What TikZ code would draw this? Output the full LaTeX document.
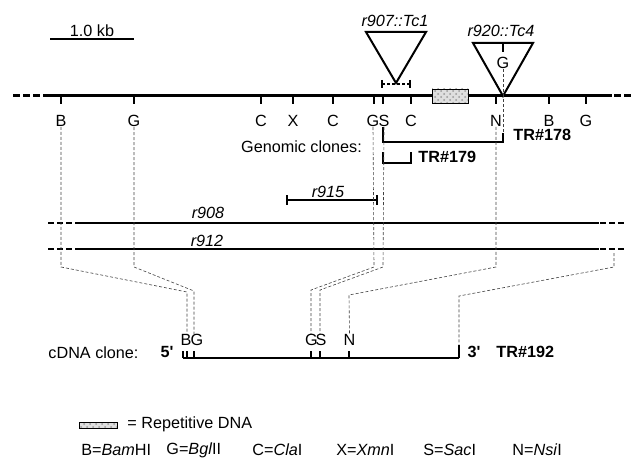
\documentclass[tikz,border=0pt]{standalone}
\usepackage{fontspec}
\setmainfont{Liberation Sans}
\usetikzlibrary{patterns}

\tikzset{
  lbl/.style={inner sep=0pt},
  clone/.style={inner sep=0pt, font=\fontsize{8.1}{9.7}\selectfont\bfseries},
  ital/.style={inner sep=0pt, font=\fontsize{8.1}{9.7}\selectfont\itshape},
  maplink/.style={line width=0.3pt, black!75, dash pattern=on 1.5pt off 1pt},
  chrom/.style={line width=1.5pt},
  chromend/.style={line width=1.5pt, dash pattern=on 3.5pt off 1.5pt},
  mutant/.style={line width=0.9pt},
  mutantend/.style={line width=0.9pt, dash pattern=on 3pt off 1.5pt},
  rep/.style={draw, line width=0.4pt, preaction={fill=gray!25}, pattern=crosshatch dots, pattern color=gray!80}
}

\begin{document}
\begin{tikzpicture}[x=0.5pt, y=-0.5pt, font=\fontsize{8.1}{9.7}\selectfont]
\useasboundingbox (0,0) rectangle (636,460);

% scale bar
\draw[line width=0.7pt] (50,39) -- (134,39);
\node[lbl] (scale) at (92,31) {1.0 kb};

% genomic map
\draw[chromend] (13,96) -- (43,96);
\draw[chrom] (43,96) -- (612,96);
\draw[chromend] (614,96) -- (634,96);
\draw[rep] (432,89) rectangle (468,103);
\draw[line width=1pt] (61,96) -- (61,104);
\draw[line width=1pt] (134,96) -- (134,104);
\draw[line width=1pt] (261,96) -- (261,104);
\draw[line width=1pt] (293,96) -- (293,104);
\draw[line width=1pt] (333,96) -- (333,104);
\draw[line width=1pt] (374,96) -- (374,104);
\draw[line width=1pt] (383,96) -- (383,104);
\draw[line width=1pt] (411,96) -- (411,104);
\draw[line width=1pt] (496,96) -- (496,104);
\draw[line width=1pt] (549,96) -- (549,104);
\draw[line width=1pt] (586,96) -- (586,104);
\node[lbl] (gB1) at (61,121) {B};
\node[lbl] (gG1) at (134,121) {G};
\node[lbl] (gC1) at (261,121) {C};
\node[lbl] (gX) at (293,121) {X};
\node[lbl] (gC2) at (333,121) {C};
\node[lbl] (gG2) at (373,121) {G};
\node[lbl] (gS) at (384,121) {S};
\node[lbl] (gC3) at (411,121) {C};
\node[lbl] (gN) at (496,121) {N};
\node[lbl] (gB2) at (549,121) {B};
\node[lbl] (gG3) at (586,121) {G};

% insertions
\draw[line width=1pt] (366,32) -- (426,32) -- (396,83) -- cycle;
\node[ital] (tc1) at (395,21) {r907::Tc1};
\draw[line width=0.6pt, dash pattern=on 1.5pt off 1pt] (382,84) -- (410,84);
\draw[line width=0.6pt] (382,80) -- (382,88);
\draw[line width=0.6pt] (410,80) -- (410,88);
\draw[line width=1pt] (473,43) -- (533,43) -- (503,96) -- cycle;
\draw[line width=0.6pt] (503,43) -- (503,52);
\node[lbl] (tcG) at (503,63) {G};
\node[ital] (tc4) at (501,31) {r920::Tc4};

% genomic clones
\node[lbl] (gclones) at (301.5,147) {Genomic clones:};
\draw[line width=0.6pt] (383,127) -- (383,142) -- (503,142) -- (503,133);
\node[clone, anchor=west] (tr178) at (513,135) {TR\#178};
\draw[line width=0.6pt] (383,152) -- (383,163) -- (411,163) -- (411,152);
\node[clone, anchor=west] (tr179) at (418,157) {TR\#179};

% deletions
\draw[line width=1pt] (287,200) -- (377,200);
\draw[line width=1pt] (287,195) -- (287,205);
\draw[line width=1pt] (377,195) -- (377,205);
\node[ital] (r915) at (328,192) {r915};
\draw[mutantend] (48,223) -- (75,223);
\draw[mutant] (75,223) -- (599,223);
\draw[mutantend] (600,223) -- (624,223);
\node[ital] (r908) at (208,213) {r908};
\draw[mutantend] (48,249) -- (75,249);
\draw[mutant] (75,249) -- (599,249);
\draw[mutantend] (600,249) -- (624,249);
\node[ital] (r912) at (207,241) {r912};

% cDNA clone
\node[lbl] (cdna) at (93.5,353) {cDNA clone:};
\node[clone] (five) at (167,352) {5\textquotesingle};
\draw[line width=0.8pt] (183,358) -- (459,358);
\draw[line width=0.6pt] (183,351) -- (183,358);
\draw[line width=0.6pt] (187,351) -- (187,358);
\draw[line width=0.6pt] (194,351) -- (194,358);
\draw[line width=0.6pt] (311,351) -- (311,358);
\draw[line width=0.6pt] (320,351) -- (320,358);
\draw[line width=0.6pt] (349,351) -- (349,358);
\draw[line width=0.6pt] (459,345) -- (459,358);
\node[lbl] (cB) at (186,340) {B};
\node[lbl] (cG1) at (197,340) {G};
\node[lbl] (cG2) at (311.5,340) {G};
\node[lbl] (cS) at (321,340) {S};
\node[lbl] (cN) at (349.5,340) {N};
\node[clone] (three) at (474,352) {3\textquotesingle};
\node[clone, anchor=west] (tr192) at (496,352) {TR\#192};
\coordinate (mutend) at (614,253);
\coordinate (cend) at (459,345);

% mapping lines
\draw[maplink] (gB1.south) -- (61,267) -- (187,292) -- (187,292 |- cB.north);
\draw[maplink] (gG1.south) -- (134,267) -- (194,291) -- (194,291 |- cG1.north);
\draw[maplink] (gG2.south) -- (374,267) -- (311,290) -- (311,290 |- cG2.north);
\draw[maplink] (gS.south) -- (383,267) -- (320,290) -- (320,290 |- cS.north);
\draw[maplink] (gN.south) -- (496,267) -- (349,295) -- (cN.north);
\draw[maplink] (mutend) -- (614,267) -- (459,296) -- (cend);
\draw[maplink] (tcG.south) -- (503,133);

% legend
\draw[rep] (79,422) rectangle (117,428);
\node[lbl, anchor=west] (replbl) at (127,424) {= Repetitive DNA};
\node[lbl, anchor=west] (keyB) at (81,450) {B=\textit{Bam}HI};
\node[lbl, anchor=west] (keyG) at (166,450) {G=\textit{Bgl}II};
\node[lbl, anchor=west] (keyC) at (252,450) {C=\textit{Cla}I};
\node[lbl, anchor=west] (keyX) at (336,450) {X=\textit{Xmn}I};
\node[lbl, anchor=west] (keyS) at (423,450) {S=\textit{Sac}I};
\node[lbl, anchor=west] (keyN) at (512,450) {N=\textit{Nsi}I};
\end{tikzpicture}
\end{document}
